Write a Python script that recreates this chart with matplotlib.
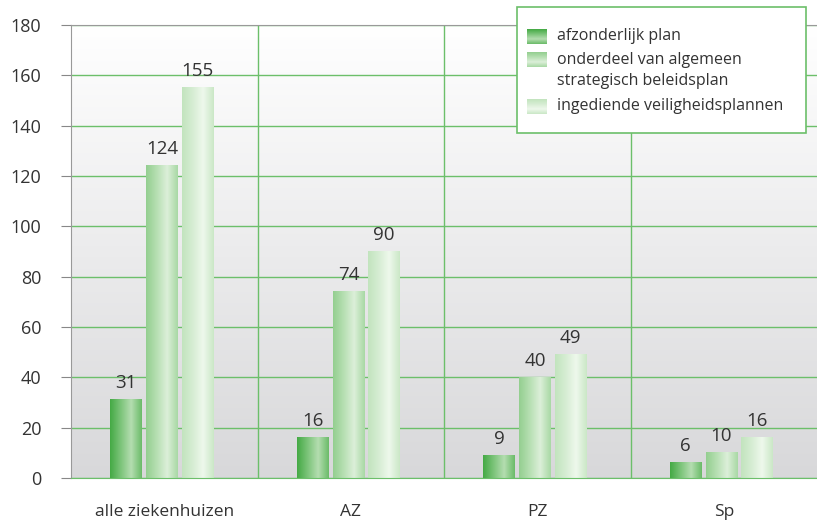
import numpy as np
import matplotlib.pyplot as plt
from matplotlib.colors import LinearSegmentedColormap
from matplotlib.patches import Rectangle

plt.rcParams['font.family'] = ['Open Sans', 'DejaVu Sans']

categories = ['alle ziekenhuizen', 'AZ', 'PZ', 'Sp']
series = ['afzonderlijk plan',
          'onderdeel van algemeen\nstrategisch beleidsplan',
          'ingediende veiligheidsplannen']
afzonderlijk = [31, 16, 9, 6]
onderdeel = [124, 74, 40, 10]
ingediend = [155, 90, 49, 16]
values = [afzonderlijk, onderdeel, ingediend]

# kleurverloop per reeks: rand, midden, rand
grads = [
    ['#45aa45', '#7cc47a', '#b4ddb0', '#6cbc6a'],
    ['#94cf90', '#b6dfb2', '#dcefd9', '#a9d9a5'],
    ['#c2e4be', '#d6edd3', '#eef8ec', '#cbe8c7'],
]
cmaps = [LinearSegmentedColormap.from_list('g%d' % i, c) for i, c in enumerate(grads)]

txt = '#333333'
green = '#6cbf6a'
W, H = 817, 523

fig = plt.figure(figsize=(W / 100, H / 100), dpi=100)
ax = fig.add_axes([71 / W, 1 - 478 / H, 1 - 71 / W, (478 - 25) / H])

# achtergrond verloop
bg = np.linspace(0, 1, 256).reshape(-1, 1)
bgmap = LinearSegmentedColormap.from_list('bg', ['#ffffff', '#d8d8da'])
ax.imshow(bg, extent=[-0.5, 3.5, 0, 180], aspect='auto', cmap=bgmap, zorder=0)

x = np.arange(len(categories))
w = 0.17
offsets = [-0.205, -0.012, 0.178]
for i in range(3):
    bars = ax.bar(x + offsets[i], values[i], w, color='none', edgecolor='none', zorder=2)
    for b, v in zip(bars, values[i]):
        bx, bw = b.get_x(), b.get_width()
        g = np.linspace(0, 1, 64).reshape(1, -1)
        ax.imshow(g, extent=[bx, bx + bw, 0, v], aspect='auto', cmap=cmaps[i], zorder=2)
        ax.text(bx + bw / 2, v + 3, str(v), ha='center', va='bottom', fontsize=13.5, color=txt)

ax.set_xlim(-0.5, 3.5)
ax.set_ylim(0, 180)
ax.set_yticks(np.arange(0, 181, 20))
ax.set_xticks(x)
ax.set_xticklabels(categories)
ax.set_xticks([0.5, 1.5, 2.5], minor=True)
ax.tick_params(axis='y', length=7, color='#888888', labelsize=13, labelcolor=txt, pad=14.5)
ax.tick_params(axis='x', which='both', length=0, labelsize=12.5, labelcolor=txt, pad=19)
ax.grid(axis='y', color=green, linewidth=1, zorder=1)
ax.grid(axis='x', which='minor', color=green, linewidth=1, zorder=1)
ax.grid(axis='x', which='major', visible=False)
ax.set_axisbelow(True)
for s in ['left', 'top']:
    ax.spines[s].set_color('#999999')
ax.spines['bottom'].set_color(green)
ax.spines['right'].set_visible(False)

# legenda
fig.patches.append(Rectangle((517 / W, 1 - 133 / H), 289 / W, 126 / H, transform=fig.transFigure,
                             facecolor='white', edgecolor=green, linewidth=1.2, zorder=5))
patch_tops = [29, 52, 99]
text_y = [36, 70.5, 106]
for i in range(3):
    pax = fig.add_axes([527 / W, 1 - (patch_tops[i] + 15) / H, 20 / W, 15 / H], zorder=6)
    gv = np.linspace(0, 1, 32).reshape(-1, 1)
    pax.imshow(gv, aspect='auto', cmap=cmaps[i], extent=[0, 1, 0, 1])
    pax.axis('off')
    fig.text(557 / W, 1 - text_y[i] / H, series[i], ha='left', va='center', fontsize=11.5,
             color=txt, linespacing=1.45, zorder=7)

fig.savefig('out.png', dpi=100)
